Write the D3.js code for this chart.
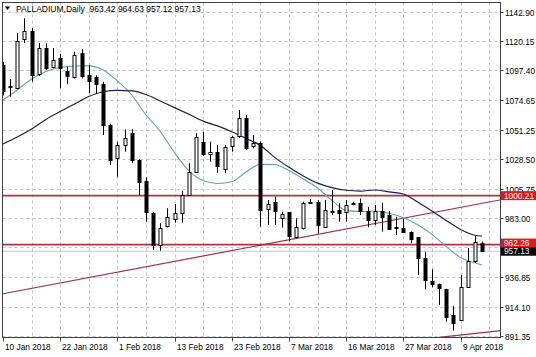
<!DOCTYPE html>
<html><head><meta charset="utf-8">
<script src="https://cdn.jsdelivr.net/npm/d3@7"></script>
<style>
html,body{margin:0;padding:0;background:#fff;}
svg{display:block;font-family:"Liberation Sans",Arial,sans-serif;}
</style></head><body>
<svg id="c" width="536" height="357"></svg>
<script>
// ---- data ----
const symbol = "PALLADIUM,Daily";
const open  = [1101.5,1084.5,1084.3,1122.3,1128.2,1094.6,1114.7,1100.0,1107.0,1097.1,1092.5,1110.6,1093.8,1092.5,1086.8,1055.1,1029.5,1039.5,1048.6,1027.9,1011.8,987.0,961.9,976.1,982.6,986.5,1000.7,1018.8,1042.1,1032.5,1034.3,1021.4,1038.2,1045.9,1060.2,1038.2,1040.8,989.9,995.1,982.6,987.3,968.4,974.9,995.2,995.5,976.1,988.0,989.1,987.3,994.1,994.3,988.5,981.9,988.5,985.2,975.5,974.9,972.3,967.9,951.6,934.2,931.7,927.6,907.6,903.7,929.6,949.7,963.42];
const high  = [1104.0,1090.7,1126.4,1137.8,1130.3,1118.6,1118.4,1114.7,1110.1,1100.2,1111.9,1113.7,1101.6,1093.5,1088.6,1056.0,1042.1,1051.7,1051.7,1028.5,1014.4,987.5,978.8,990.4,993.7,1004.1,1025.3,1048.6,1049.8,1042.1,1039.5,1039.5,1046.5,1066.6,1062.8,1047.3,1042.1,996.8,999.4,987.8,987.5,982.6,995.5,997.5,996.8,996.8,1004.6,994.3,996.8,995.5,998.1,991.6,992.9,994.7,988.5,983.9,981.9,972.5,968.0,956.7,943.1,932.0,928.0,914.6,938.7,959.6,968.9,964.63];
const low   = [1078.0,1077.0,1083.0,1118.6,1088.6,1093.0,1097.7,1099.0,1083.7,1086.8,1091.0,1091.2,1079.8,1079.0,1047.3,1024.0,1014.9,1034.3,1025.3,1000.7,980.0,958.1,957.5,975.5,979.2,979.2,1000.0,1018.0,1031.0,1026.6,1018.0,1017.6,1034.3,1045.0,1035.6,1036.9,976.1,977.5,977.5,975.4,964.5,967.1,974.0,994.0,971.0,975.5,985.2,980.0,980.0,993.0,985.2,975.7,977.5,972.3,974.0,969.7,971.5,963.3,938.7,927.6,929.1,915.4,902.4,895.5,903.2,929.0,948.2,957.12];
const close = [1081.5,1085.0,1120.4,1128.2,1093.8,1114.7,1099.2,1105.4,1099.2,1093.3,1109.3,1092.5,1089.4,1087.4,1055.1,1027.9,1039.6,1044.7,1027.3,1011.0,987.8,961.9,974.9,983.4,987.0,1000.7,1018.8,1045.9,1033.1,1034.3,1023.2,1038.2,1045.5,1060.2,1036.9,1040.8,989.1,993.5,987.8,985.7,968.4,976.1,994.3,995.5,978.0,989.1,988.3,987.0,992.9,994.3,988.3,981.9,988.5,983.9,974.1,975.7,971.5,967.1,951.6,934.8,932.2,928.4,905.9,901.7,929.6,949.7,964.5,957.13];

// moving averages (bar index -> value)
const maBars = [0,2,4,6,8,10,12,14,16,18,20,22,24,26,28,30,32,34,36,38,40,42,44,46,48,50,52,54,56,58,60,62,64,66,67];
const maSlow = [1040.3,1045.7,1051.9,1059.3,1065.5,1071.3,1077.1,1080.8,1081.9,1081.5,1078.7,1073.6,1068.5,1063.3,1058.0,1054.3,1049.8,1044.5,1039.2,1029.9,1022.2,1015.5,1009.9,1006.5,1004.4,1003.8,1004.6,1003.2,1001.5,995.3,988.3,980.9,974.0,969.5,968.9];
const maFast = [1074.4,1082.2,1090.7,1096.5,1099.6,1100.8,1100.9,1097.7,1089.2,1078.3,1062.8,1050.0,1033.5,1019.5,1011.9,1009.6,1011.0,1018.6,1024.5,1024.3,1019.7,1013.1,1006.2,996.5,988.8,987.9,988.3,986.5,983.1,977.7,970.2,960.7,952.2,948.2,946.4];

// axis tick labels (960.25 sits hidden under the price boxes in the reference)
const priceTicks = ["1142.90","1120.15","1097.40","1074.65","1051.25","1028.50","1005.75","983.00","960.25","936.85","914.10","891.35"];
const hiddenTicks = ["960.25"];
const dateLabels = ["10 Jan 2018","22 Jan 2018","1 Feb 2018","13 Feb 2018","23 Feb 2018","7 Mar 2018","16 Mar 2018","27 Mar 2018","9 Apr 2018"];
const dateBars   = [0,8,16,24,32,40,48,56,64];
const gridBars   = [4,8,12,16,20,24,28,32,36,40,44,48,52,56,60,64,68];

// horizontal levels and trend lines
const levels = [1000.21, 962.26];
const bidPrice = 957.13;
const trendUpper = [[0,924.1],[70,997.4]];
const trendLower = [[55,886.7],[70,895.7]];

// ---- drawing ----
const svg = d3.select("#c");
const L = 2.5, T = 2.5, R = 500.5, B = 337.5;
const x = d3.scaleLinear().domain([0,67]).range([3,482]);
const y = d3.scaleLinear().domain([891.35,1142.90]).range([336,11.7]);

svg.append("defs").append("clipPath").attr("id","clip")
  .append("rect").attr("x",L).attr("y",T).attr("width",R-L).attr("height",B-T);

// grid
const grid = svg.append("g").attr("stroke","#c4c4c4").attr("stroke-dasharray","3,3").attr("stroke-width",1);
priceTicks.forEach(t=>{
  const yy = Math.round(y(+t))+0.5;
  grid.append("line").attr("x1",L).attr("x2",R).attr("y1",yy).attr("y2",yy);
});
gridBars.forEach(b=>{
  const xx = Math.round(x(b))+0.5;
  if (xx < R) grid.append("line").attr("x1",xx).attr("x2",xx).attr("y1",T).attr("y2",B);
});

const plot = svg.append("g").attr("clip-path","url(#clip)");

// bid line
plot.append("line").attr("x1",L).attr("x2",R)
  .attr("y1",y(bidPrice)).attr("y2",y(bidPrice))
  .attr("stroke","#c8c8c8").attr("stroke-width",1);

// horizontal levels
levels.forEach(v=>{
  plot.append("line").attr("x1",L).attr("x2",R).attr("y1",y(v)).attr("y2",y(v))
    .attr("stroke","#ad3440").attr("stroke-width",1.6);
});

// trend lines
[trendUpper,trendLower].forEach(tl=>{
  plot.append("line")
    .attr("x1",x(tl[0][0])).attr("y1",y(tl[0][1]))
    .attr("x2",x(tl[1][0])).attr("y2",y(tl[1][1]))
    .attr("stroke","#9e3040").attr("stroke-width",1.2);
});

// moving averages
const lineGen = d3.line().x(d=>x(d[0])).y(d=>y(d[1])).curve(d3.curveMonotoneX);
plot.append("path").datum(maBars.map((b,i)=>[b,maFast[i]]))
  .attr("d",lineGen).attr("fill","none").attr("stroke","#5aa7aa").attr("stroke-width",1.1);
plot.append("path").datum(maBars.map((b,i)=>[b,maSlow[i]]))
  .attr("d",lineGen).attr("fill","none").attr("stroke","#1c1c50").attr("stroke-width",1.2);

// candles
const bars = open.map((o,i)=>({i,o,h:high[i],l:low[i],c:close[i]}));
const cg = plot.append("g");
cg.selectAll("line.wick").data(bars).join("line")
  .attr("x1",d=>Math.round(x(d.i))+0.5).attr("x2",d=>Math.round(x(d.i))+0.5)
  .attr("y1",d=>y(d.h)).attr("y2",d=>y(d.l))
  .attr("stroke","#000").attr("stroke-width",1);
cg.selectAll("rect.body").data(bars).join("rect")
  .attr("x",d=>Math.round(x(d.i))-1)
  .attr("y",d=>Math.round(y(Math.max(d.o,d.c)))+0.5)
  .attr("width",3)
  .attr("height",d=>Math.max(1,Math.round(Math.abs(y(d.o)-y(d.c)))))
  .attr("fill",d=>d.c>=d.o?"#fff":"#000")
  .attr("stroke","#000").attr("stroke-width",1);

// frame
svg.append("rect").attr("x",L).attr("y",T).attr("width",R-L).attr("height",B-T)
  .attr("fill","none").attr("stroke","#404040").attr("stroke-width",1);

// right axis ticks + labels
const ra = svg.append("g");
priceTicks.forEach(t=>{
  const yy = Math.round(y(+t))+0.5;
  ra.append("line").attr("x1",R).attr("x2",R+3).attr("y1",yy).attr("y2",yy).attr("stroke","#404040");
  if (!hiddenTicks.includes(t))
    ra.append("text").attr("x",505).attr("y",yy+3).attr("font-size",8.3).attr("fill","#000").text(t);
});

// bottom axis ticks + labels
const ba = svg.append("g");
dateBars.forEach((b,i)=>{
  const xx = Math.round(x(b))+0.5;
  ba.append("line").attr("x1",xx).attr("x2",xx).attr("y1",B).attr("y2",B+4).attr("stroke","#404040");
  ba.append("text").attr("x",xx+1.5).attr("y",350).attr("font-size",8.3).attr("fill","#000").text(dateLabels[i]);
});

// price boxes
function priceBox(v, col, txt, dy){
  const yy = y(v)+dy;
  svg.append("rect").attr("x",501).attr("y",yy-4.5).attr("width",35).attr("height",9).attr("fill",col);
  svg.append("text").attr("x",504).attr("y",yy+3).attr("font-size",8.3).attr("fill","#fff").text(txt);
}
priceBox(levels[0], "#e3161e", levels[0].toFixed(2), 0);
priceBox(bidPrice, "#000", bidPrice.toFixed(2), 0);
priceBox(levels[1], "#e3161e", levels[1].toFixed(2), -1.5);

// title
const last = open.length-1;
svg.append("path").attr("d","M5,6.5 L10,6.5 L7.5,10 Z").attr("fill","#000");
svg.append("text").attr("x",16).attr("y",11.5).attr("font-size",8.5).attr("fill","#000")
  .attr("xml:space","preserve")
  .text(symbol+"  "+[open[last],high[last],low[last],close[last]].map(v=>v.toFixed(2)).join(" "));
</script>
</body></html>
